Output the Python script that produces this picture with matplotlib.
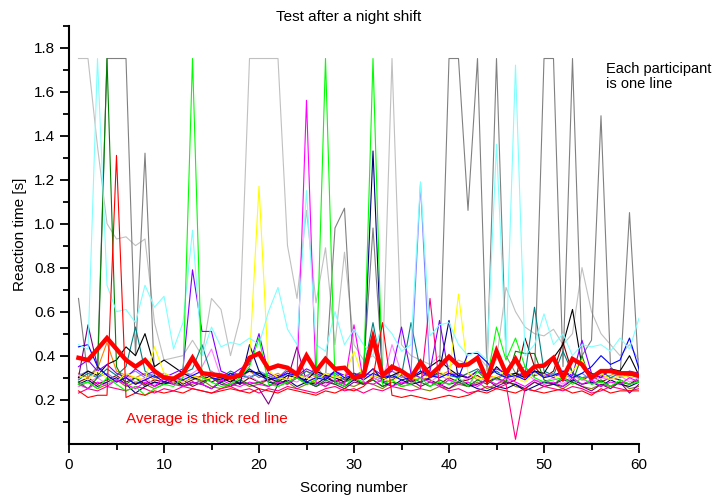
import matplotlib
matplotlib.use("Agg")
import matplotlib.pyplot as plt
from matplotlib.ticker import MultipleLocator, FixedLocator

plt.rcParams['font.family'] = ['Liberation Sans', 'DejaVu Sans']

scoring = list(range(1, 61))

black = [0.30,0.33,0.31,0.36,0.38,0.44,0.40,0.50,0.35,0.38,
         0.35,0.32,0.30,0.29,0.31,0.30,0.28,0.31,0.33,0.32,
         0.30,0.28,0.31,0.30,0.29,0.33,0.31,0.30,0.28,0.32,
         0.30,0.34,0.29,0.31,0.33,0.30,0.32,0.35,0.38,0.34,
         0.31,0.30,0.33,0.29,0.35,0.31,0.32,0.30,0.33,0.32,
         0.39,0.45,0.61,0.35,0.32,0.30,0.34,0.33,0.40,0.31]
red = [0.24,0.21,0.22,0.22,1.31,0.21,0.23,0.22,0.24,0.23,
       0.24,0.23,0.25,0.24,0.23,0.24,0.25,0.24,0.23,0.25,
       0.24,0.23,0.25,0.24,0.23,0.22,0.24,0.23,0.25,0.24,
       0.26,0.30,0.55,0.22,0.21,0.22,0.21,0.20,0.21,0.22,
       0.21,0.22,0.24,0.23,0.25,0.24,0.23,0.25,0.24,0.23,
       0.24,0.25,0.23,0.24,0.22,0.25,0.23,0.24,0.24,0.24]
green = [0.27,0.28,0.25,0.30,0.27,0.24,0.26,0.22,0.25,0.27,
         0.26,0.30,1.75,0.30,0.28,0.26,0.27,0.30,0.35,0.48,
         0.27,0.26,0.28,0.30,0.27,0.29,1.75,0.28,0.26,0.30,
         0.28,1.75,0.27,0.29,0.26,0.27,0.30,0.26,0.28,0.27,
         0.30,0.26,0.33,0.29,0.53,0.38,0.48,0.35,0.30,0.28,
         0.29,0.30,0.27,0.30,0.27,0.28,0.26,0.29,0.27,0.28]
blue = [0.44,0.45,0.35,0.31,0.28,0.30,0.27,0.29,0.31,0.28,
        0.30,0.29,0.31,0.33,0.30,0.29,0.32,0.30,0.34,0.31,
        0.29,0.30,0.32,0.31,0.28,0.30,0.29,0.33,0.30,0.31,
        0.29,0.32,0.30,0.31,0.29,0.30,0.33,0.31,0.30,0.32,
        0.30,0.41,0.41,0.37,0.32,0.30,0.31,0.29,0.33,0.30,
        0.31,0.33,0.30,0.32,0.35,0.40,0.36,0.38,0.48,0.34]
light_cyan = [0.45,0.43,1.75,0.72,0.60,0.61,0.55,0.72,0.62,0.67,
              0.43,0.55,0.97,0.40,0.53,0.44,0.46,0.45,0.48,0.45,
              0.60,0.71,0.52,0.45,1.15,0.45,0.42,0.60,0.45,0.52,
              0.45,0.40,0.55,0.50,0.42,0.45,1.19,0.49,0.54,0.55,
              0.45,0.40,0.42,0.38,1.36,0.40,1.72,0.40,0.45,0.59,
              0.45,0.50,0.40,0.45,0.44,0.45,0.42,0.48,0.43,0.57]
magenta = [0.27,0.25,0.28,0.26,0.29,0.27,0.25,0.28,0.26,0.30,
           0.27,0.26,0.28,0.27,0.25,0.29,0.27,0.26,0.28,0.27,
           0.26,0.28,0.27,0.30,1.56,0.28,0.26,0.29,0.27,0.54,
           0.28,0.27,0.29,0.26,0.28,0.27,0.30,0.28,0.26,0.29,
           0.27,0.28,0.26,0.29,0.27,0.30,0.28,0.26,0.29,0.27,
           0.28,0.26,0.30,0.27,0.29,0.26,0.28,0.27,0.30,0.28]
yellow = [0.31,0.29,0.33,0.30,0.28,0.32,0.30,0.29,0.44,0.32,
          0.30,0.28,0.31,0.29,0.30,0.32,0.29,0.31,0.38,1.17,
          0.33,0.30,0.29,0.31,0.30,0.28,0.32,0.30,0.31,0.42,
          0.29,0.31,0.30,0.28,0.32,0.30,0.29,0.31,0.33,0.30,
          0.68,0.32,0.30,0.29,0.31,0.33,0.30,0.28,0.32,0.30,
          0.31,0.29,0.33,0.38,0.30,0.32,0.29,0.31,0.30,0.32]
olive = [0.26,0.28,0.25,0.27,0.29,0.26,0.28,0.27,0.25,0.27,
         0.28,0.26,0.27,0.29,0.26,0.25,0.27,0.28,0.26,0.27,
         0.29,0.26,0.28,0.25,0.27,0.28,0.26,0.29,0.27,0.26,
         0.28,0.27,0.25,0.28,0.26,0.27,0.25,0.24,0.26,0.25,
         0.27,0.26,0.28,0.25,0.27,0.29,0.26,0.25,0.28,0.26,
         0.27,0.25,0.28,0.26,0.25,0.27,0.26,0.28,0.25,0.26]
navy = [0.27,0.29,0.26,0.28,0.30,0.27,0.23,0.26,0.28,0.27,
        0.29,0.26,0.28,0.27,0.25,0.28,0.30,0.27,0.45,0.33,
        0.28,0.27,0.29,0.26,0.28,0.27,0.30,0.28,0.26,0.29,
        0.30,1.33,0.28,0.26,0.29,0.27,0.28,0.30,0.33,0.56,
        0.29,0.27,0.25,0.24,0.26,0.25,0.27,0.24,0.26,0.28,
        0.27,0.26,0.29,0.27,0.28,0.26,0.29,0.27,0.26,0.28]
purple = [0.30,0.54,0.35,0.31,0.28,0.30,0.27,0.29,0.26,0.28,
          0.27,0.29,0.26,0.28,0.30,0.27,0.26,0.28,0.27,0.25,
          0.18,0.27,0.29,0.44,0.28,0.26,0.28,0.27,0.25,0.28,
          0.27,0.29,0.26,0.28,0.27,0.29,0.26,0.28,0.27,0.25,
          0.28,0.26,0.27,0.29,0.26,0.28,0.27,0.25,0.28,0.26,
          0.27,0.29,0.28,0.26,0.24,0.27,0.25,0.28,0.23,0.27]
wine = [0.28,0.30,0.27,0.29,0.31,0.28,0.30,0.27,0.29,0.28,
        0.30,0.27,0.29,0.31,0.28,0.30,0.29,0.27,0.30,0.28,
        0.29,0.31,0.28,0.30,0.27,0.29,0.31,0.28,0.30,0.29,
        0.27,0.30,0.28,0.29,0.31,0.28,0.30,0.29,0.27,0.30,
        0.28,0.29,0.31,0.28,0.30,0.27,0.29,0.48,0.35,0.30,
        0.33,0.46,0.32,0.29,0.31,0.28,0.30,0.29,0.27,0.30]
dark_green = [0.28,0.25,0.30,1.75,0.35,0.27,0.30,0.26,0.28,0.27,
              0.29,0.26,0.28,0.27,0.30,0.28,0.26,0.29,0.27,0.28,
              0.26,0.29,0.27,0.30,0.28,0.26,0.29,0.27,0.28,0.30,
              0.27,0.29,0.26,0.28,0.27,0.30,0.28,0.26,0.29,0.27,
              0.28,0.26,0.29,0.27,0.30,0.28,0.42,0.41,0.41,0.29,
              0.27,0.30,0.28,0.40,0.27,0.29,0.26,0.28,0.27,0.29]
teal = [0.29,0.32,0.30,0.34,0.31,0.35,0.53,0.33,0.30,0.31,
        0.30,0.32,0.34,0.45,0.31,0.30,0.33,0.31,0.30,0.32,
        0.31,0.29,0.32,0.30,0.33,0.31,0.30,0.32,0.29,0.31,
        0.33,0.55,0.32,0.30,0.31,0.55,0.33,0.30,0.32,0.31,
        0.30,0.32,0.34,0.31,0.33,0.30,0.32,0.31,0.62,0.33,
        0.31,0.42,0.32,0.30,0.31,0.33,0.30,0.32,0.31,0.30]
light_blue = [0.31,0.33,0.30,0.32,0.29,0.31,0.33,0.30,0.32,0.31,
              0.30,0.32,0.31,0.29,0.33,0.30,0.31,0.32,0.30,0.33,
              0.31,0.29,0.32,0.30,0.31,0.33,0.30,0.32,0.31,0.30,
              0.32,0.31,0.29,0.33,0.30,0.32,1.18,0.31,0.30,0.32,
              0.31,0.30,0.33,0.31,0.29,0.32,0.30,0.31,0.33,0.30,
              0.32,0.31,0.30,0.32,0.29,0.31,0.33,0.30,0.32,0.31]
orange = [0.32,0.30,0.34,0.46,0.33,0.31,0.30,0.32,0.29,0.31,
          0.30,0.33,0.31,0.30,0.32,0.29,0.31,0.30,0.33,0.31,
          0.30,0.32,0.29,0.31,0.33,0.30,0.32,0.31,0.29,0.30,
          0.32,0.31,0.30,0.33,0.31,0.29,0.32,0.30,0.31,0.33,
          0.30,0.32,0.29,0.31,0.30,0.32,0.31,0.30,0.33,0.31,
          0.32,0.30,0.31,0.29,0.32,0.30,0.31,0.33,0.30,0.31]
violet = [0.35,0.38,0.33,0.36,0.32,0.30,0.34,0.31,0.33,0.30,
          0.32,0.34,0.79,0.51,0.51,0.33,0.31,0.34,0.36,0.50,
          0.32,0.30,0.33,0.31,0.34,0.32,0.30,0.33,0.31,0.32,
          0.30,0.34,0.31,0.33,0.53,0.32,0.30,0.33,0.56,0.31,
          0.32,0.30,0.33,0.31,0.34,0.32,0.30,0.33,0.31,0.32,
          0.30,0.33,0.31,0.47,0.32,0.30,0.34,0.31,0.33,0.32]
pink = [0.23,0.25,0.24,0.26,0.25,0.24,0.26,0.25,0.23,0.25,
        0.24,0.26,0.25,0.24,0.23,0.25,0.26,0.24,0.25,0.23,
        0.25,0.24,0.26,0.25,0.24,0.23,0.25,0.26,0.24,0.25,
        0.23,0.25,0.24,0.26,0.25,0.24,0.25,0.66,0.26,0.24,
        0.25,0.23,0.24,0.26,0.25,0.27,0.02,0.25,0.24,0.26,
        0.25,0.24,0.26,0.25,0.23,0.24,0.26,0.25,0.24,0.25]
light_magenta = [0.26,0.28,0.30,0.27,0.29,0.31,0.28,0.30,0.27,0.29,
                 0.28,0.30,0.32,0.35,0.43,0.30,0.28,0.29,0.31,0.28,
                 0.30,0.27,0.29,0.28,0.31,0.29,0.27,0.30,0.28,0.29,
                 0.31,0.30,0.28,0.45,0.32,0.29,0.30,0.28,0.31,0.29,
                 0.28,0.30,0.27,0.31,0.29,0.28,0.30,0.32,0.29,0.28,
                 0.30,0.27,0.31,0.29,0.28,0.30,0.29,0.31,0.28,0.30]
light_gray = [1.75,1.75,1.35,1.00,0.93,0.94,0.90,0.93,0.55,0.38,
              0.39,0.40,0.47,0.40,0.66,0.61,0.40,0.57,1.75,1.75,
              1.75,1.75,0.90,0.66,1.06,0.64,0.89,0.45,0.87,0.45,
              0.38,0.40,0.35,1.75,0.45,0.40,0.38,0.36,0.40,0.35,
              0.38,0.36,0.40,0.35,0.38,0.71,0.60,0.53,0.50,0.49,
              0.52,0.45,0.50,0.80,0.60,0.50,0.45,0.40,0.45,0.38]
gray = [0.66,0.30,0.35,1.75,1.75,1.75,0.40,1.32,0.30,0.32,
        0.30,0.28,0.30,0.28,0.30,0.29,0.32,0.30,0.33,0.30,
        0.32,0.30,0.34,0.32,0.30,0.35,0.30,0.98,1.07,0.30,
        0.33,0.98,0.32,0.30,0.33,0.31,0.35,0.30,0.33,1.75,
        1.75,1.06,1.75,0.33,1.75,0.40,0.32,0.35,0.30,1.75,
        1.75,0.35,1.75,0.40,0.47,1.49,0.35,0.30,1.05,0.30]
average = [0.39,0.38,0.43,0.48,0.43,0.38,0.35,0.38,0.33,0.30,
           0.295,0.32,0.39,0.32,0.315,0.31,0.30,0.31,0.39,0.41,
           0.34,0.355,0.345,0.315,0.40,0.33,0.385,0.34,0.345,0.30,
           0.31,0.48,0.31,0.35,0.33,0.30,0.37,0.31,0.35,0.395,
           0.355,0.36,0.39,0.29,0.42,0.32,0.385,0.31,0.35,0.355,
           0.39,0.30,0.385,0.36,0.30,0.33,0.33,0.32,0.32,0.31]

participants = [
    (light_gray, '#c0c0c0'), (gray, '#808080'), (olive, '#808000'),
    (wine, '#800000'), (orange, '#ff8000'), (light_magenta, '#ff80ff'),
    (purple, '#800080'), (teal, '#008080'), (light_blue, '#8080ff'),
    (black, '#000000'), (dark_green, '#008000'), (navy, '#000080'),
    (violet, '#8000ff'), (yellow, '#ffff00'), (blue, '#0000ff'),
    (pink, '#ff0080'), (magenta, '#ff00ff'), (light_cyan, '#80ffff'),
    (green, '#00ff00'), (red, '#ff0000'),
]

fig = plt.figure(figsize=(7.17, 4.99), dpi=100)
ax = fig.add_axes([69/717, (499-443.7)/499, 570/717, (443.7-25.5)/499])

for vals, col in participants:
    ax.plot(scoring, vals, color=col, lw=0.8)
ax.plot(scoring, average, color='#ff0000', lw=3.2, solid_joinstyle='miter', zorder=5)

ax.set_xlim(0, 60)
ax.set_ylim(0, 1.9)
ax.xaxis.set_major_locator(MultipleLocator(10))
ax.xaxis.set_minor_locator(MultipleLocator(5))
ax.yaxis.set_major_locator(FixedLocator([0.2, 0.4, 0.6, 0.8, 1.0, 1.2, 1.4, 1.6, 1.8]))
ax.yaxis.set_minor_locator(FixedLocator([0.1, 0.3, 0.5, 0.7, 0.9, 1.1, 1.3, 1.5, 1.7, 1.9]))
ax.set_yticklabels(['0.2', '0.4', '0.6', '0.8', '1.0', '1.2', '1.4', '1.6', '1.8'])

for s in ['top', 'right']:
    ax.spines[s].set_visible(False)
for s in ['left', 'bottom']:
    ax.spines[s].set_linewidth(1.5)
ax.tick_params(which='major', length=6.5, width=1.3, labelsize=11, direction='out')
ax.tick_params(which='minor', length=4, width=1.3, direction='out')

ax.set_xlabel('Scoring number', fontsize=11, labelpad=7)
ax.set_ylabel('Reaction time [s]', fontsize=11, labelpad=5)
fig.text(349/717, 1 - 17/499, 'Test after a night shift', ha='center', va='center', fontsize=11)

ax.text(56.5, 1.735, 'Each participant\nis one line', ha='left', va='top', fontsize=10.5, linespacing=1.15)
ax.text(5.97, 0.11, 'Average is thick red line', ha='left', va='center', fontsize=11, color='#ff0000')

fig.savefig('out.png', dpi=100)
